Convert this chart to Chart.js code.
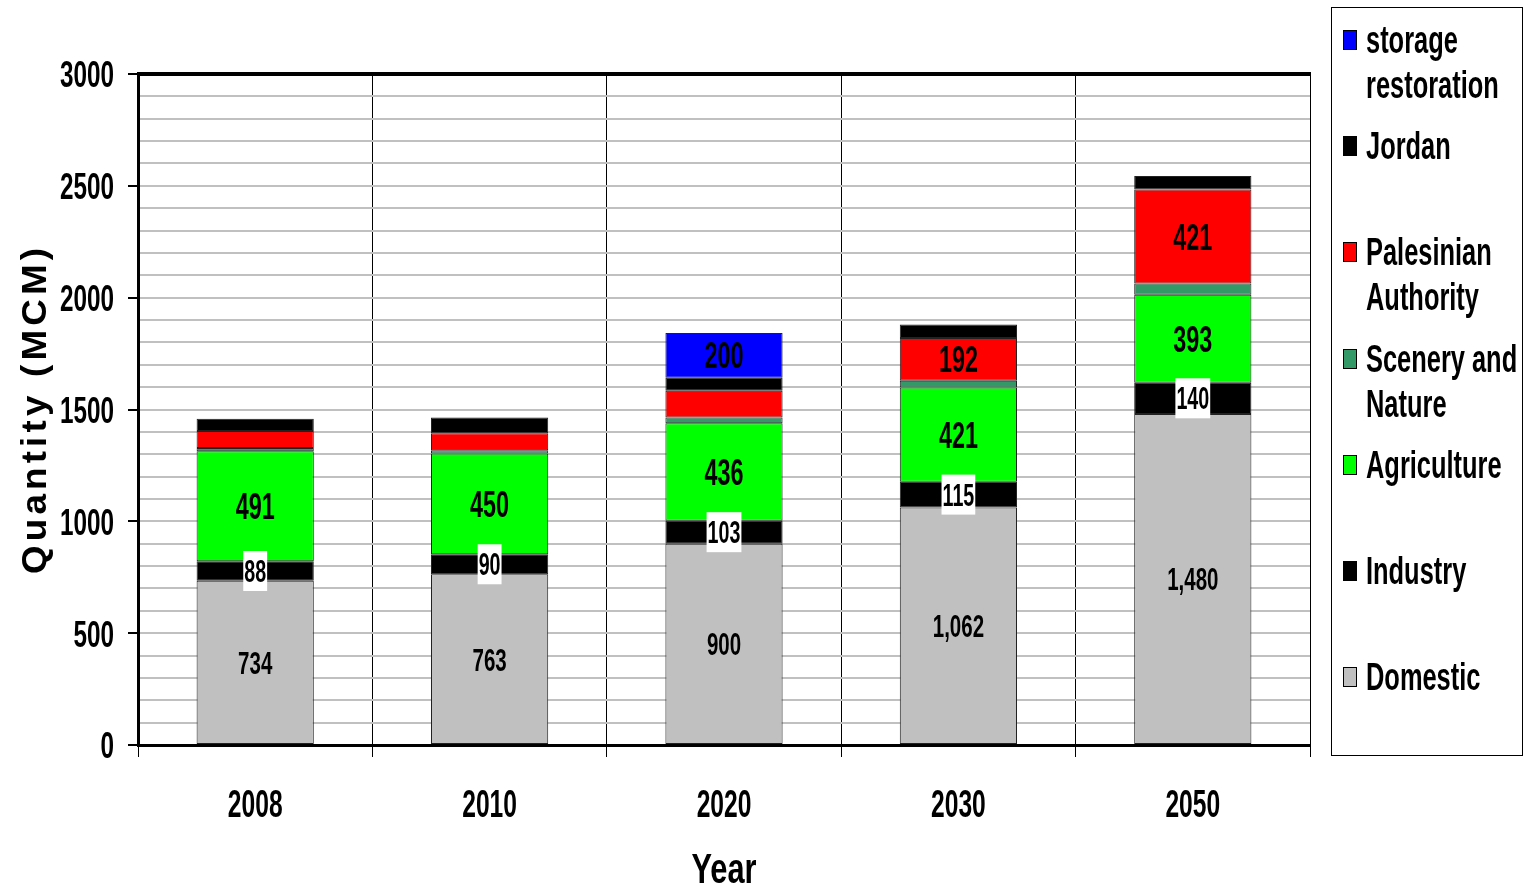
<!DOCTYPE html>
<html>
<head>
<meta charset="utf-8">
<script src="https://cdn.jsdelivr.net/npm/chart.js@4"></script>
<style>
  html, body { margin: 0; padding: 0; background: #fff; }
  #wrap { position: relative; width: 1530px; height: 890px; }
  #legend {
    position: absolute; left: 1331px; top: 7px; width: 192px; height: 749px;
    border: 1px solid #000; box-sizing: border-box; padding-top: 9px;
    overflow: hidden;
  }
  .item { height: 106.2px; position: relative; }
  .sw { position: absolute; left: 11px; top: 13px; width: 12px; height: 18px; border: 1px solid #000; }
  .txt {
    position: absolute; left: 34px; top: 0; width: 190px;
    font: bold 31px "Liberation Sans", Arial, sans-serif;
    line-height: 35px; transform: scale(0.82, 1.28); transform-origin: 0 0;
  }
</style>
</head>
<body>
<div id="wrap">
  <canvas id="chart" width="1530" height="890"></canvas>
  <div id="legend"></div>
</div>
<script>
const FONT = '"Liberation Sans", Arial, sans-serif';

const years = ["2008", "2010", "2020", "2030", "2050"];

// water demand per sector, MCM (bottom of the stack first)
const domestic = [734, 763, 900, 1062, 1480];
const industry = [88, 90, 103, 115, 140];
const agriculture = [491, 450, 436, 421, 393];
const scenery = [15, 15, 25, 30, 50];
const palestinian = [76, 76, 120, 192, 421];
const jordan = [55, 70, 58, 60, 60];
const storage = [0, 0, 200, 0, 0];

const yTicks = [0, 500, 1000, 1500, 2000, 2500, 3000];

const series = [
  { label: "Domestic", data: domestic, color: "#c0c0c0" },
  { label: "Industry", data: industry, color: "#000000" },
  { label: "Agriculture", data: agriculture, color: "#00ff00" },
  { label: "Scenery and Nature", data: scenery, color: "#339966" },
  { label: "Palesinian Authority", data: palestinian, color: "#ff0000" },
  { label: "Jordan", data: jordan, color: "#000000" },
  { label: "storage restoration", data: storage, color: "#0000ff" }
];

// which segments carry a value label and how it looks
const labelRules = {
  "Domestic": { size: 25, comma: true },
  "Industry": { size: 24, box: true },
  "Agriculture": { size: 28.5 },
  "Palesinian Authority": { size: 28.5, min: 150 },
  "storage restoration": { size: 28.5 }
};

// narrow, tall lettering: regular face squeezed sideways and stretched up
const SX = 0.82, SY = 1.28;

function narrowText(ctx, txt, x, y, size, align, sy) {
  ctx.save();
  ctx.font = "bold " + size + "px " + FONT;
  ctx.translate(x, y);
  ctx.scale(SX, sy || SY);
  ctx.fillStyle = "#000";
  ctx.textAlign = align;
  ctx.textBaseline = "alphabetic";
  ctx.fillText(txt, 0, size * 0.716 / 2);
  ctx.restore();
}

const segmentLabels = {
  id: "segmentLabels",
  afterDatasetsDraw(chart) {
    const ctx = chart.ctx;
    chart.data.datasets.forEach((ds, i) => {
      const rule = labelRules[ds.label];
      if (!rule) return;
      const meta = chart.getDatasetMeta(i);
      meta.data.forEach((bar, j) => {
        const v = ds.data[j];
        if (!v || (rule.min && v < rule.min)) return;
        const txt = rule.comma ? v.toLocaleString("en-US") : String(v);
        const cy = (bar.y + bar.base) / 2;
        if (rule.box) {
          ctx.save();
          ctx.font = "bold " + rule.size + "px " + FONT;
          const w = ctx.measureText(txt).width * SX;
          ctx.fillStyle = "#fff";
          ctx.fillRect(bar.x - w / 2 - 1, cy - 20, w + 2, 40);
          ctx.restore();
        }
        narrowText(ctx, txt, bar.x, cy, rule.size, "center");
      });
    });
  }
};

const axisText = {
  id: "axisText",
  afterDraw(chart) {
    const { ctx, chartArea, scales } = chart;

    ctx.save();
    ctx.strokeStyle = "#000";
    ctx.lineWidth = 4;
    ctx.beginPath();
    ctx.moveTo(chartArea.left - 1, chartArea.top);
    ctx.lineTo(chartArea.right + 1, chartArea.top);
    ctx.stroke();
    ctx.restore();

    yTicks.forEach(v => {
      narrowText(ctx, String(v), chartArea.left - 24, scales.y.getPixelForValue(v), 29.6, "right", 1.26);
    });
    chart.data.labels.forEach((lab, i) => {
      narrowText(ctx, lab, scales.x.getPixelForTick(i), 803, 30, "center", 1.3);
    });
    narrowText(ctx, "Year", (chartArea.left + chartArea.right) / 2, 868, 37.5, "center", 1.15);

    // y axis title, spaced-out lettering
    const spacing = 4;
    ctx.save();
    ctx.translate(46, 411);
    ctx.rotate(-Math.PI / 2);
    ctx.scale(1.05, 1);
    ctx.font = "bold 35px " + FONT;
    ctx.letterSpacing = spacing + "px";
    ctx.fillStyle = "#000";
    ctx.textAlign = "center";
    ctx.textBaseline = "alphabetic";
    ctx.fillText("Quantity (MCM)", spacing / 2, 0);
    ctx.restore();
  }
};

new Chart(document.getElementById("chart"), {
  type: "bar",
  data: {
    labels: years,
    datasets: series.map(s => ({
      label: s.label,
      data: s.data,
      backgroundColor: s.color,
      borderColor: "#222",
      borderWidth: 1,
      borderSkipped: false,
      barPercentage: 0.5,
      categoryPercentage: 1
    }))
  },
  options: {
    responsive: false,
    animation: false,
    layout: { padding: { top: 74, right: 220, left: 0, bottom: 0 } },
    plugins: { legend: { display: false }, tooltip: { enabled: false } },
    scales: {
      x: {
        stacked: true,
        offset: true,
        grid: { offset: true, color: "#000", lineWidth: 1, tickLength: 12 },
        border: { display: true, color: "#000", width: 3 },
        ticks: { color: "rgba(0,0,0,0)", font: { size: 30 } },
        afterFit(scale) { scale.height = 145; }
      },
      y: {
        stacked: true,
        min: 0, max: 3000,
        grid: {
          color: c => (c.tick && c.tick.value === 0 ? "rgba(0,0,0,0)" : "#c0c0c0"),
          lineWidth: 2,
          tickLength: 10,
          tickWidth: 2,
          tickColor: c => (c.tick && yTicks.includes(c.tick.value) ? "#000" : "rgba(0,0,0,0)")
        },
        border: { display: true, color: "#000", width: 3 },
        ticks: {
          stepSize: 100,
          autoSkip: false,
          color: "rgba(0,0,0,0)",
          font: { size: 30 },
          callback: v => (yTicks.includes(v) ? String(v) : "")
        },
        afterFit(scale) { scale.width = 138; }
      }
    }
  },
  plugins: [segmentLabels, axisText]
});

// legend, top entry first
const legend = document.getElementById("legend");
series.slice().reverse().forEach(s => {
  const item = document.createElement("div");
  item.className = "item";
  item.innerHTML = '<div class="sw" style="background:' + s.color + '"></div><div class="txt">' + s.label + "</div>";
  legend.appendChild(item);
});
</script>
</body>
</html>
